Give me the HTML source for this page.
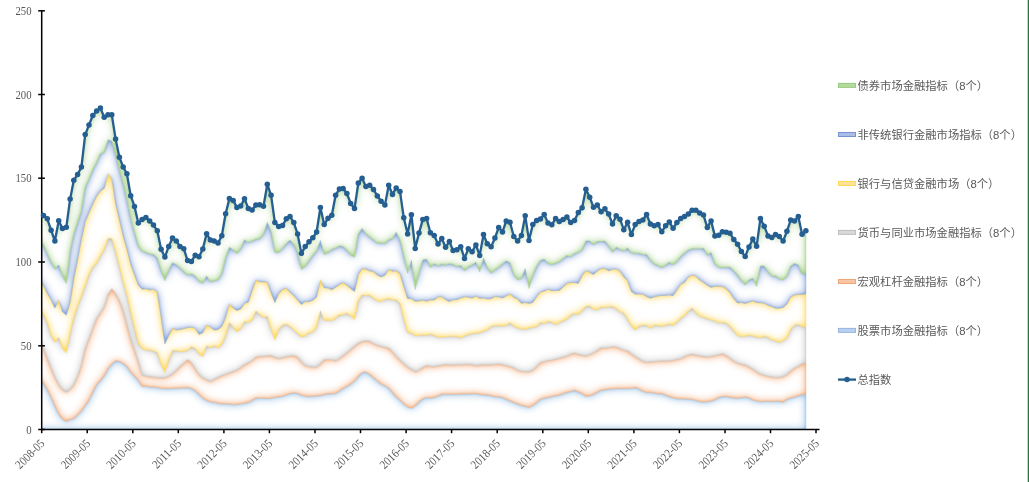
<!DOCTYPE html>
<html lang="zh"><head><meta charset="utf-8"><title>金融指标总指数</title>
<style>
html,body{margin:0;padding:0;background:#fff}
svg{display:block}
.ax{font-family:"Liberation Serif",serif;font-size:12.2px;fill:#595959}
.lg{font-family:"Liberation Sans","Noto Sans CJK SC",sans-serif;font-size:11.3px;fill:#595959}
</style></head>
<body>
<svg style="will-change:transform" width="1029" height="482" viewBox="0 0 1029 482">
<defs>
<filter id="ig" filterUnits="userSpaceOnUse" x="20" y="80" width="810" height="370" color-interpolation-filters="sRGB"><feGaussianBlur in="SourceAlpha" stdDeviation="1.5" result="a"/><feGaussianBlur in="SourceAlpha" stdDeviation="4.0" result="b"/><feComposite in="a" in2="b" operator="arithmetic" k1="0" k2="-0.6475" k3="-1.2025000000000001" k4="1.85" result="m"/><feComposite in="SourceGraphic" in2="m" operator="in"/></filter>
</defs>
<rect width="1029" height="482" fill="#fff"/>
<clipPath id="cp"><rect x="41.7" y="0" width="800" height="430.2"/></clipPath>
<g clip-path="url(#cp)">
<polygon filter="url(#ig)" fill="#9DC3E6" stroke="#9DC3E6" stroke-width="0.5" stroke-linejoin="round" points="35.5,378.8 39.8,378.8 43.5,382.9 47.3,389.7 51.1,397.3 54.9,405.8 58.7,413.9 62.5,419 66.3,421.5 70.1,419.5 73.8,418.6 77.6,415.1 81.4,411.1 85.2,405.6 89,399.9 92.8,392.1 96.6,384.6 100.4,380.5 104.2,375.9 108,368.7 111.8,364.2 115.6,360.7 119.4,361.3 123.2,363.5 126.9,366.6 130.7,372.1 134.5,376.2 138.3,380.2 142.1,386.4 145.9,386.1 149.7,387.1 153.5,387 157.3,387.4 161.1,388.5 164.9,388.2 168.7,388.9 172.5,388.1 176.3,388.5 180,387.8 183.8,387.9 187.6,387.4 191.4,388.4 195.2,390.6 199,394.2 202.8,398.3 206.6,400.3 210.4,401.9 214.2,402.2 218,403.1 221.8,404 225.6,403.8 229.4,404 233.2,404.8 236.9,404.3 240.7,403.8 244.5,403.2 248.3,402.5 252.1,400.6 255.9,397.8 259.7,398.2 263.5,398.1 267.3,398.6 271.1,398.2 274.9,397.3 278.7,396.8 282.5,396.3 286.3,394.7 290,393.5 293.8,392.9 297.6,393.3 301.4,395.2 305.2,396 309,396.7 312.8,396 316.6,395.9 320.4,395.4 324.2,394.6 328,393.8 331.8,393.8 335.6,393.6 339.4,391 343.1,388.3 346.9,386.5 350.7,383.9 354.5,381.1 358.3,376.6 362.1,372.6 365.9,371.9 369.7,374.4 373.5,377.8 377.3,381 381.1,384.1 384.9,385.8 388.7,387.9 392.5,392.4 396.2,396.9 400,400.1 403.8,403.8 407.6,407 411.4,408.3 415.2,406 419,401.8 422.8,398.8 426.6,397.6 430.4,398 434.2,397.6 438,396.1 441.8,393.9 445.6,394.5 449.4,394.1 453.1,394.6 456.9,394 460.7,393.9 464.5,393.9 468.3,394 472.1,393.7 475.9,393.5 479.7,394.4 483.5,394.8 487.3,395.1 491.1,395.6 494.9,396.9 498.7,396.8 502.5,397.4 506.2,399.4 510,400.8 513.8,402.4 517.6,404 521.4,405.4 525.2,406.3 529,407.4 532.8,405.4 536.6,402.6 540.4,399.2 544.2,398.1 548,397.6 551.8,396.5 555.6,395.6 559.3,395.2 563.1,393.6 566.9,392.3 570.7,391.8 574.5,390.1 578.3,392 582.1,393.6 585.9,396.4 589.7,395.8 593.5,394.4 597.3,392.3 601.1,390.1 604.9,389.8 608.7,389 612.5,389.1 616.2,388.3 620,388.5 623.8,388.5 627.6,388.4 631.4,388.5 635.2,387.3 639,388.9 642.8,391.2 646.6,392.5 650.4,392.3 654.2,393 658,393.8 661.8,393.4 665.6,395.3 669.3,396.8 673.1,397.5 676.9,399 680.7,398.6 684.5,398.9 688.3,399 692.1,399.5 695.9,400.4 699.7,401.6 703.5,402 707.3,401.5 711.1,401 714.9,399.8 718.7,397.6 722.4,396.5 726.2,396.4 730,397.3 733.8,397.9 737.6,398.2 741.4,397.7 745.2,396.9 749,397.9 752.8,399.9 756.6,401 760.4,401.6 764.2,401.4 768,401.1 771.8,401.6 775.5,401.3 779.3,401.1 783.1,402.5 786.9,399.3 790.7,397.9 794.5,397 798.3,395.9 802.1,394.4 805.9,394 805.9,429.5 802.1,429.5 798.3,429.5 794.5,429.5 790.7,429.5 786.9,429.5 783.1,429.5 779.3,429.5 775.5,429.5 771.8,429.5 768,429.5 764.2,429.5 760.4,429.5 756.6,429.5 752.8,429.5 749,429.5 745.2,429.5 741.4,429.5 737.6,429.5 733.8,429.5 730,429.5 726.2,429.5 722.4,429.5 718.7,429.5 714.9,429.5 711.1,429.5 707.3,429.5 703.5,429.5 699.7,429.5 695.9,429.5 692.1,429.5 688.3,429.5 684.5,429.5 680.7,429.5 676.9,429.5 673.1,429.5 669.3,429.5 665.6,429.5 661.8,429.5 658,429.5 654.2,429.5 650.4,429.5 646.6,429.5 642.8,429.5 639,429.5 635.2,429.5 631.4,429.5 627.6,429.5 623.8,429.5 620,429.5 616.2,429.5 612.5,429.5 608.7,429.5 604.9,429.5 601.1,429.5 597.3,429.5 593.5,429.5 589.7,429.5 585.9,429.5 582.1,429.5 578.3,429.5 574.5,429.5 570.7,429.5 566.9,429.5 563.1,429.5 559.3,429.5 555.6,429.5 551.8,429.5 548,429.5 544.2,429.5 540.4,429.5 536.6,429.5 532.8,429.5 529,429.5 525.2,429.5 521.4,429.5 517.6,429.5 513.8,429.5 510,429.5 506.2,429.5 502.5,429.5 498.7,429.5 494.9,429.5 491.1,429.5 487.3,429.5 483.5,429.5 479.7,429.5 475.9,429.5 472.1,429.5 468.3,429.5 464.5,429.5 460.7,429.5 456.9,429.5 453.1,429.5 449.4,429.5 445.6,429.5 441.8,429.5 438,429.5 434.2,429.5 430.4,429.5 426.6,429.5 422.8,429.5 419,429.5 415.2,429.5 411.4,429.5 407.6,429.5 403.8,429.5 400,429.5 396.2,429.5 392.5,429.5 388.7,429.5 384.9,429.5 381.1,429.5 377.3,429.5 373.5,429.5 369.7,429.5 365.9,429.5 362.1,429.5 358.3,429.5 354.5,429.5 350.7,429.5 346.9,429.5 343.1,429.5 339.4,429.5 335.6,429.5 331.8,429.5 328,429.5 324.2,429.5 320.4,429.5 316.6,429.5 312.8,429.5 309,429.5 305.2,429.5 301.4,429.5 297.6,429.5 293.8,429.5 290,429.5 286.3,429.5 282.5,429.5 278.7,429.5 274.9,429.5 271.1,429.5 267.3,429.5 263.5,429.5 259.7,429.5 255.9,429.5 252.1,429.5 248.3,429.5 244.5,429.5 240.7,429.5 236.9,429.5 233.2,429.5 229.4,429.5 225.6,429.5 221.8,429.5 218,429.5 214.2,429.5 210.4,429.5 206.6,429.5 202.8,429.5 199,429.5 195.2,429.5 191.4,429.5 187.6,429.5 183.8,429.5 180,429.5 176.3,429.5 172.5,429.5 168.7,429.5 164.9,429.5 161.1,429.5 157.3,429.5 153.5,429.5 149.7,429.5 145.9,429.5 142.1,429.5 138.3,429.5 134.5,429.5 130.7,429.5 126.9,429.5 123.2,429.5 119.4,429.5 115.6,429.5 111.8,429.5 108,429.5 104.2,429.5 100.4,429.5 96.6,429.5 92.8,429.5 89,429.5 85.2,429.5 81.4,429.5 77.6,429.5 73.8,429.5 70.1,429.5 66.3,429.5 62.5,429.5 58.7,429.5 54.9,429.5 51.1,429.5 47.3,429.5 43.5,429.5 39.8,429.5 35.5,429.5"/>
<polygon filter="url(#ig)" fill="#F4B183" stroke="#F4B183" stroke-width="0.5" stroke-linejoin="round" points="35.5,342.7 39.8,342.7 43.5,348.6 47.3,358.6 51.1,368.3 54.9,377.3 58.7,384.6 62.5,390 66.3,392.6 70.1,389.4 73.8,384.7 77.6,376.6 81.4,365.2 85.2,348.8 89,339.1 92.8,328.6 96.6,318.5 100.4,313.1 104.2,307.3 108,294.6 111.8,288.8 115.6,293.8 119.4,301.1 123.2,311.3 126.9,325.2 130.7,339.5 134.5,350.5 138.3,361.7 142.1,375.2 145.9,376.2 149.7,376.7 153.5,377 157.3,377.8 161.1,377.8 164.9,378.1 168.7,376.2 172.5,374.1 176.3,370.6 180,366.6 183.8,363.2 187.6,359.6 191.4,362.7 195.2,369 199,374.8 202.8,378.1 206.6,379.7 210.4,382 214.2,379.4 218,377.6 221.8,375.5 225.6,374.4 229.4,372.9 233.2,371.6 236.9,370.5 240.7,367.6 244.5,364.7 248.3,363 252.1,361.1 255.9,357 259.7,356.5 263.5,356.4 267.3,355.9 271.1,355.5 274.9,357.4 278.7,358.9 282.5,357.6 286.3,356.6 290,356.1 293.8,355.6 297.6,357.1 301.4,361.8 305.2,366 309,366.6 312.8,367.2 316.6,367.6 320.4,363.9 324.2,359.5 328,359.8 331.8,359.7 335.6,361.2 339.4,358.5 343.1,355.8 346.9,352.9 350.7,349.7 354.5,346.2 358.3,343.5 362.1,341.4 365.9,340.9 369.7,341.2 373.5,343.7 377.3,345.5 381.1,346.3 384.9,347.5 388.7,348.1 392.5,352.1 396.2,356.4 400,360.5 403.8,363.6 407.6,367.4 411.4,369.2 415.2,372.2 419,370.5 422.8,367.5 426.6,365.4 430.4,366.6 434.2,367 438,365.8 441.8,365.3 445.6,364.7 449.4,364.9 453.1,365.2 456.9,364.5 460.7,365 464.5,364.5 468.3,364.3 472.1,364.6 475.9,366.1 479.7,364.9 483.5,364.7 487.3,364.9 491.1,364.8 494.9,364.5 498.7,364.1 502.5,364.6 506.2,365.8 510,366.4 513.8,367.7 517.6,370.6 521.4,371.6 525.2,371.6 529,372 532.8,370.3 536.6,367 540.4,362.4 544.2,361.8 548,360.5 551.8,360.4 555.6,359.1 559.3,358.4 563.1,357.1 566.9,356.5 570.7,354.2 574.5,353.1 578.3,354.4 582.1,355.2 585.9,356.2 589.7,354.7 593.5,352.9 597.3,350.8 601.1,347.6 604.9,348.3 608.7,347.8 612.5,346.7 616.2,346.9 620,348.8 623.8,350.4 627.6,351 631.4,354 635.2,356.8 639,359 642.8,361.4 646.6,362.6 650.4,361.8 654.2,361.8 658,361.2 661.8,361 665.6,361 669.3,361 673.1,360.4 676.9,359.4 680.7,358.9 684.5,356.6 688.3,355.3 692.1,354.2 695.9,355 699.7,356 703.5,356.5 707.3,357.2 711.1,356.5 714.9,355.8 718.7,355 722.4,353.7 726.2,355.5 730,358.2 733.8,361.2 737.6,363.2 741.4,364.3 745.2,364.9 749,366.9 752.8,369.2 756.6,371.7 760.4,374.3 764.2,375.2 768,376.4 771.8,376.9 775.5,377.8 779.3,377.5 783.1,376.7 786.9,374.8 790.7,371.1 794.5,368.3 798.3,366.5 802.1,363.8 805.9,362.8 805.9,394 802.1,394.4 798.3,395.9 794.5,397 790.7,397.9 786.9,399.3 783.1,402.5 779.3,401.1 775.5,401.3 771.8,401.6 768,401.1 764.2,401.4 760.4,401.6 756.6,401 752.8,399.9 749,397.9 745.2,396.9 741.4,397.7 737.6,398.2 733.8,397.9 730,397.3 726.2,396.4 722.4,396.5 718.7,397.6 714.9,399.8 711.1,401 707.3,401.5 703.5,402 699.7,401.6 695.9,400.4 692.1,399.5 688.3,399 684.5,398.9 680.7,398.6 676.9,399 673.1,397.5 669.3,396.8 665.6,395.3 661.8,393.4 658,393.8 654.2,393 650.4,392.3 646.6,392.5 642.8,391.2 639,388.9 635.2,387.3 631.4,388.5 627.6,388.4 623.8,388.5 620,388.5 616.2,388.3 612.5,389.1 608.7,389 604.9,389.8 601.1,390.1 597.3,392.3 593.5,394.4 589.7,395.8 585.9,396.4 582.1,393.6 578.3,392 574.5,390.1 570.7,391.8 566.9,392.3 563.1,393.6 559.3,395.2 555.6,395.6 551.8,396.5 548,397.6 544.2,398.1 540.4,399.2 536.6,402.6 532.8,405.4 529,407.4 525.2,406.3 521.4,405.4 517.6,404 513.8,402.4 510,400.8 506.2,399.4 502.5,397.4 498.7,396.8 494.9,396.9 491.1,395.6 487.3,395.1 483.5,394.8 479.7,394.4 475.9,393.5 472.1,393.7 468.3,394 464.5,393.9 460.7,393.9 456.9,394 453.1,394.6 449.4,394.1 445.6,394.5 441.8,393.9 438,396.1 434.2,397.6 430.4,398 426.6,397.6 422.8,398.8 419,401.8 415.2,406 411.4,408.3 407.6,407 403.8,403.8 400,400.1 396.2,396.9 392.5,392.4 388.7,387.9 384.9,385.8 381.1,384.1 377.3,381 373.5,377.8 369.7,374.4 365.9,371.9 362.1,372.6 358.3,376.6 354.5,381.1 350.7,383.9 346.9,386.5 343.1,388.3 339.4,391 335.6,393.6 331.8,393.8 328,393.8 324.2,394.6 320.4,395.4 316.6,395.9 312.8,396 309,396.7 305.2,396 301.4,395.2 297.6,393.3 293.8,392.9 290,393.5 286.3,394.7 282.5,396.3 278.7,396.8 274.9,397.3 271.1,398.2 267.3,398.6 263.5,398.1 259.7,398.2 255.9,397.8 252.1,400.6 248.3,402.5 244.5,403.2 240.7,403.8 236.9,404.3 233.2,404.8 229.4,404 225.6,403.8 221.8,404 218,403.1 214.2,402.2 210.4,401.9 206.6,400.3 202.8,398.3 199,394.2 195.2,390.6 191.4,388.4 187.6,387.4 183.8,387.9 180,387.8 176.3,388.5 172.5,388.1 168.7,388.9 164.9,388.2 161.1,388.5 157.3,387.4 153.5,387 149.7,387.1 145.9,386.1 142.1,386.4 138.3,380.2 134.5,376.2 130.7,372.1 126.9,366.6 123.2,363.5 119.4,361.3 115.6,360.7 111.8,364.2 108,368.7 104.2,375.9 100.4,380.5 96.6,384.6 92.8,392.1 89,399.9 85.2,405.6 81.4,411.1 77.6,415.1 73.8,418.6 70.1,419.5 66.3,421.5 62.5,419 58.7,413.9 54.9,405.8 51.1,397.3 47.3,389.7 43.5,382.9 39.8,378.8 35.5,378.8"/>
<polygon filter="url(#ig)" fill="#C9C9C9" stroke="#C9C9C9" stroke-width="0.5" stroke-linejoin="round" points="35.5,309.2 39.8,309.2 43.5,314.4 47.3,322.9 51.1,335.2 54.9,342.3 58.7,337.6 62.5,348.2 66.3,353 70.1,333.7 73.8,318.1 77.6,306.2 81.4,296.7 85.2,286.1 89,274.8 92.8,267 96.6,263.2 100.4,255.9 104.2,250 108,238.6 111.8,238.6 115.6,251.9 119.4,266.7 123.2,282.3 126.9,295.4 130.7,312.5 134.5,328 138.3,343.6 142.1,348.2 145.9,350.2 149.7,350.1 153.5,351.1 157.3,352.5 161.1,364.6 164.9,372.7 168.7,360 172.5,350.5 176.3,350.8 180,351.7 183.8,351.2 187.6,350.7 191.4,346.7 195.2,348.6 199,353.9 202.8,356.6 206.6,345.9 210.4,347.5 214.2,345.8 218,348.2 221.8,344.7 225.6,335.6 229.4,322.5 233.2,326.9 236.9,331.9 240.7,328.7 244.5,321.6 248.3,322.6 252.1,320.2 255.9,311 259.7,314.5 263.5,317.5 267.3,316.4 271.1,329.2 274.9,340.2 278.7,329.7 282.5,325.2 286.3,324.3 290,326.5 293.8,330 297.6,333.6 301.4,337.1 305.2,335.9 309,332.8 312.8,332.2 316.6,327.6 320.4,310.7 324.2,320.7 328,319.9 331.8,320.8 335.6,318.3 339.4,315.1 343.1,315.1 346.9,313.1 350.7,316.1 354.5,319.5 358.3,300.7 362.1,295 365.9,295.3 369.7,295.2 373.5,298.2 377.3,300.7 381.1,301.7 384.9,299.5 388.7,298.5 392.5,299.9 396.2,300.1 400,303.3 403.8,318.9 407.6,332.7 411.4,333 415.2,335.7 419,335.4 422.8,334.7 426.6,335.5 430.4,333.9 434.2,335.6 438,337.2 441.8,337.1 445.6,337 449.4,336.3 453.1,336.7 456.9,336.2 460.7,338.2 464.5,335.9 468.3,334.5 472.1,333.5 475.9,333.1 479.7,333 483.5,330.9 487.3,330.1 491.1,326.6 494.9,325.4 498.7,325.8 502.5,326.3 506.2,325.3 510,322.9 513.8,325.9 517.6,328.1 521.4,328.9 525.2,329.2 529,327.9 532.8,327.2 536.6,326.8 540.4,322.6 544.2,323.4 548,321.4 551.8,322.1 555.6,324.7 559.3,322.5 563.1,320.7 566.9,319.2 570.7,314.9 574.5,313.4 578.3,314.7 582.1,310.5 585.9,306.6 589.7,306 593.5,309.3 597.3,309.9 601.1,306.9 604.9,307.6 608.7,306.8 612.5,306.6 616.2,308.8 620,311.8 623.8,313.2 627.6,318.9 631.4,326 635.2,330.2 639,326.1 642.8,325.3 646.6,325.3 650.4,328.4 654.2,325.2 658,325.5 661.8,326.5 665.6,325.1 669.3,324.1 673.1,325.6 676.9,322.3 680.7,318.2 684.5,316 688.3,311 692.1,308.2 695.9,312.5 699.7,316.3 703.5,317.3 707.3,318.5 711.1,320 714.9,320.7 718.7,323 722.4,322.5 726.2,323.1 730,326.4 733.8,330.5 737.6,335.7 741.4,336.5 745.2,336.1 749,335.3 752.8,336 756.6,337 760.4,337.8 764.2,336.2 768,337.4 771.8,340.1 775.5,340.7 779.3,342.7 783.1,340.7 786.9,338.5 790.7,329.6 794.5,325.2 798.3,324.6 802.1,326.8 805.9,326.8 805.9,362.8 802.1,363.8 798.3,366.5 794.5,368.3 790.7,371.1 786.9,374.8 783.1,376.7 779.3,377.5 775.5,377.8 771.8,376.9 768,376.4 764.2,375.2 760.4,374.3 756.6,371.7 752.8,369.2 749,366.9 745.2,364.9 741.4,364.3 737.6,363.2 733.8,361.2 730,358.2 726.2,355.5 722.4,353.7 718.7,355 714.9,355.8 711.1,356.5 707.3,357.2 703.5,356.5 699.7,356 695.9,355 692.1,354.2 688.3,355.3 684.5,356.6 680.7,358.9 676.9,359.4 673.1,360.4 669.3,361 665.6,361 661.8,361 658,361.2 654.2,361.8 650.4,361.8 646.6,362.6 642.8,361.4 639,359 635.2,356.8 631.4,354 627.6,351 623.8,350.4 620,348.8 616.2,346.9 612.5,346.7 608.7,347.8 604.9,348.3 601.1,347.6 597.3,350.8 593.5,352.9 589.7,354.7 585.9,356.2 582.1,355.2 578.3,354.4 574.5,353.1 570.7,354.2 566.9,356.5 563.1,357.1 559.3,358.4 555.6,359.1 551.8,360.4 548,360.5 544.2,361.8 540.4,362.4 536.6,367 532.8,370.3 529,372 525.2,371.6 521.4,371.6 517.6,370.6 513.8,367.7 510,366.4 506.2,365.8 502.5,364.6 498.7,364.1 494.9,364.5 491.1,364.8 487.3,364.9 483.5,364.7 479.7,364.9 475.9,366.1 472.1,364.6 468.3,364.3 464.5,364.5 460.7,365 456.9,364.5 453.1,365.2 449.4,364.9 445.6,364.7 441.8,365.3 438,365.8 434.2,367 430.4,366.6 426.6,365.4 422.8,367.5 419,370.5 415.2,372.2 411.4,369.2 407.6,367.4 403.8,363.6 400,360.5 396.2,356.4 392.5,352.1 388.7,348.1 384.9,347.5 381.1,346.3 377.3,345.5 373.5,343.7 369.7,341.2 365.9,340.9 362.1,341.4 358.3,343.5 354.5,346.2 350.7,349.7 346.9,352.9 343.1,355.8 339.4,358.5 335.6,361.2 331.8,359.7 328,359.8 324.2,359.5 320.4,363.9 316.6,367.6 312.8,367.2 309,366.6 305.2,366 301.4,361.8 297.6,357.1 293.8,355.6 290,356.1 286.3,356.6 282.5,357.6 278.7,358.9 274.9,357.4 271.1,355.5 267.3,355.9 263.5,356.4 259.7,356.5 255.9,357 252.1,361.1 248.3,363 244.5,364.7 240.7,367.6 236.9,370.5 233.2,371.6 229.4,372.9 225.6,374.4 221.8,375.5 218,377.6 214.2,379.4 210.4,382 206.6,379.7 202.8,378.1 199,374.8 195.2,369 191.4,362.7 187.6,359.6 183.8,363.2 180,366.6 176.3,370.6 172.5,374.1 168.7,376.2 164.9,378.1 161.1,377.8 157.3,377.8 153.5,377 149.7,376.7 145.9,376.2 142.1,375.2 138.3,361.7 134.5,350.5 130.7,339.5 126.9,325.2 123.2,311.3 119.4,301.1 115.6,293.8 111.8,288.8 108,294.6 104.2,307.3 100.4,313.1 96.6,318.5 92.8,328.6 89,339.1 85.2,348.8 81.4,365.2 77.6,376.6 73.8,384.7 70.1,389.4 66.3,392.6 62.5,390 58.7,384.6 54.9,377.3 51.1,368.3 47.3,358.6 43.5,348.6 39.8,342.7 35.5,342.7"/>
<polygon filter="url(#ig)" fill="#FFD966" stroke="#FFD966" stroke-width="0.5" stroke-linejoin="round" points="35.5,280.5 39.8,280.5 43.5,285.3 47.3,293.4 51.1,299.7 54.9,308.1 58.7,300.1 62.5,311.7 66.3,315.2 70.1,302.5 73.8,278.9 77.6,259.9 81.4,239.6 85.2,221.8 89,212.8 92.8,204.1 96.6,196.3 100.4,190.9 104.2,188.3 108,173.7 111.8,178.8 115.6,203.4 119.4,219.7 123.2,236.2 126.9,249.1 130.7,264.2 134.5,274.8 138.3,285 142.1,289.2 145.9,288.7 149.7,290 153.5,289.2 157.3,292.2 161.1,317.1 164.9,343.9 168.7,335.7 172.5,328.2 176.3,330 180,329.6 183.8,328.6 187.6,327.7 191.4,327.2 195.2,328.2 199,334.4 202.8,332.8 206.6,325.1 210.4,327.1 214.2,330.1 218,329.5 221.8,326.4 225.6,317.6 229.4,303.6 233.2,308 236.9,310.4 240.7,309 244.5,303.2 248.3,302.2 252.1,290.7 255.9,280.1 259.7,281.7 263.5,281.9 267.3,282 271.1,292.8 274.9,302.7 278.7,293.6 282.5,289.5 286.3,288.2 290,292.3 293.8,295.7 297.6,299.9 301.4,304.4 305.2,301.6 309,301.7 312.8,300.3 316.6,296.9 320.4,279.8 324.2,287.7 328,288.1 331.8,289.7 335.6,287.2 339.4,284.6 343.1,282.5 346.9,285.1 350.7,288.4 354.5,291.6 358.3,274.5 362.1,268.6 365.9,269 369.7,271 373.5,271.6 377.3,275 381.1,276.9 384.9,275.3 388.7,269.4 392.5,271.2 396.2,270.8 400,273.7 403.8,286.4 407.6,298.6 411.4,298.6 415.2,301.3 419,301 422.8,300.1 426.6,301.2 430.4,300 434.2,299.9 438,296.9 441.8,296.7 445.6,299.7 449.4,301.5 453.1,299.8 456.9,299.7 460.7,298.1 464.5,296.8 468.3,297.2 472.1,298.1 475.9,296.1 479.7,298.3 483.5,298.1 487.3,298.9 491.1,298.8 494.9,296.5 498.7,296.9 502.5,298 506.2,295.9 510,294 513.8,297.2 517.6,299.1 521.4,303.3 525.2,302.6 529,303.4 532.8,302.5 536.6,296.8 540.4,292.1 544.2,291.2 548,289.2 551.8,290.7 555.6,290.5 559.3,290.5 563.1,286.9 566.9,283.4 570.7,282.5 574.5,282.6 578.3,283.4 582.1,275.5 585.9,270.5 589.7,272.4 593.5,274.5 597.3,271 601.1,268.6 604.9,268.6 608.7,270.8 612.5,269.3 616.2,269 620,271.3 623.8,276.9 627.6,280.8 631.4,291.4 635.2,294.1 639,294.1 642.8,294.2 646.6,296.6 650.4,298.2 654.2,296.8 658,296 661.8,295.4 665.6,295.5 669.3,294.9 673.1,295.7 676.9,290.1 680.7,284.3 684.5,282.4 688.3,277.2 692.1,275 695.9,276.3 699.7,280 703.5,282.6 707.3,285.2 711.1,287.4 714.9,286.3 718.7,286.3 722.4,286.5 726.2,288.8 730,292.7 733.8,298.6 737.6,303 741.4,302.6 745.2,303.5 749,302.3 752.8,300.9 756.6,302.5 760.4,302.8 764.2,303.3 768,305.3 771.8,306.5 775.5,308.2 779.3,308.2 783.1,307.4 786.9,303.9 790.7,297 794.5,294.9 798.3,294.6 802.1,294.3 805.9,294.1 805.9,326.8 802.1,326.8 798.3,324.6 794.5,325.2 790.7,329.6 786.9,338.5 783.1,340.7 779.3,342.7 775.5,340.7 771.8,340.1 768,337.4 764.2,336.2 760.4,337.8 756.6,337 752.8,336 749,335.3 745.2,336.1 741.4,336.5 737.6,335.7 733.8,330.5 730,326.4 726.2,323.1 722.4,322.5 718.7,323 714.9,320.7 711.1,320 707.3,318.5 703.5,317.3 699.7,316.3 695.9,312.5 692.1,308.2 688.3,311 684.5,316 680.7,318.2 676.9,322.3 673.1,325.6 669.3,324.1 665.6,325.1 661.8,326.5 658,325.5 654.2,325.2 650.4,328.4 646.6,325.3 642.8,325.3 639,326.1 635.2,330.2 631.4,326 627.6,318.9 623.8,313.2 620,311.8 616.2,308.8 612.5,306.6 608.7,306.8 604.9,307.6 601.1,306.9 597.3,309.9 593.5,309.3 589.7,306 585.9,306.6 582.1,310.5 578.3,314.7 574.5,313.4 570.7,314.9 566.9,319.2 563.1,320.7 559.3,322.5 555.6,324.7 551.8,322.1 548,321.4 544.2,323.4 540.4,322.6 536.6,326.8 532.8,327.2 529,327.9 525.2,329.2 521.4,328.9 517.6,328.1 513.8,325.9 510,322.9 506.2,325.3 502.5,326.3 498.7,325.8 494.9,325.4 491.1,326.6 487.3,330.1 483.5,330.9 479.7,333 475.9,333.1 472.1,333.5 468.3,334.5 464.5,335.9 460.7,338.2 456.9,336.2 453.1,336.7 449.4,336.3 445.6,337 441.8,337.1 438,337.2 434.2,335.6 430.4,333.9 426.6,335.5 422.8,334.7 419,335.4 415.2,335.7 411.4,333 407.6,332.7 403.8,318.9 400,303.3 396.2,300.1 392.5,299.9 388.7,298.5 384.9,299.5 381.1,301.7 377.3,300.7 373.5,298.2 369.7,295.2 365.9,295.3 362.1,295 358.3,300.7 354.5,319.5 350.7,316.1 346.9,313.1 343.1,315.1 339.4,315.1 335.6,318.3 331.8,320.8 328,319.9 324.2,320.7 320.4,310.7 316.6,327.6 312.8,332.2 309,332.8 305.2,335.9 301.4,337.1 297.6,333.6 293.8,330 290,326.5 286.3,324.3 282.5,325.2 278.7,329.7 274.9,340.2 271.1,329.2 267.3,316.4 263.5,317.5 259.7,314.5 255.9,311 252.1,320.2 248.3,322.6 244.5,321.6 240.7,328.7 236.9,331.9 233.2,326.9 229.4,322.5 225.6,335.6 221.8,344.7 218,348.2 214.2,345.8 210.4,347.5 206.6,345.9 202.8,356.6 199,353.9 195.2,348.6 191.4,346.7 187.6,350.7 183.8,351.2 180,351.7 176.3,350.8 172.5,350.5 168.7,360 164.9,372.7 161.1,364.6 157.3,352.5 153.5,351.1 149.7,350.1 145.9,350.2 142.1,348.2 138.3,343.6 134.5,328 130.7,312.5 126.9,295.4 123.2,282.3 119.4,266.7 115.6,251.9 111.8,238.6 108,238.6 104.2,250 100.4,255.9 96.6,263.2 92.8,267 89,274.8 85.2,286.1 81.4,296.7 77.6,306.2 73.8,318.1 70.1,333.7 66.3,353 62.5,348.2 58.7,337.6 54.9,342.3 51.1,335.2 47.3,322.9 43.5,314.4 39.8,309.2 35.5,309.2"/>
<polygon filter="url(#ig)" fill="#8FAADC" stroke="#8FAADC" stroke-width="0.5" stroke-linejoin="round" points="35.5,240.4 39.8,240.4 43.5,245.6 47.3,254.2 51.1,262.1 54.9,269.3 58.7,265 62.5,275.9 66.3,283.7 70.1,251.8 73.8,234.5 77.6,222.6 81.4,211.2 85.2,187.4 89,179.4 92.8,170 96.6,162.9 100.4,153.8 104.2,152.8 108,139.8 111.8,141.3 115.6,154.9 119.4,170.5 123.2,184.3 126.9,200.5 130.7,219 134.5,232.7 138.3,246.2 142.1,251.3 145.9,252.4 149.7,254.3 153.5,254.5 157.3,258 161.1,270.8 164.9,280.8 168.7,270.5 172.5,262.7 176.3,264.7 180,268 183.8,271.8 187.6,275.4 191.4,273.9 195.2,276.2 199,281.4 202.8,283.4 206.6,275.9 210.4,282.2 214.2,280.6 218,280.2 221.8,273.7 225.6,258.3 229.4,247.3 233.2,250.1 236.9,253.8 240.7,249.1 244.5,239.9 248.3,242.7 252.1,241.3 255.9,239.2 259.7,238.9 263.5,234.7 267.3,222.4 271.1,231.7 274.9,252.4 278.7,252.6 282.5,248.8 286.3,243.8 290,240.1 293.8,244.6 297.6,252.6 301.4,269.7 305.2,266.5 309,260.7 312.8,255.4 316.6,251.2 320.4,240.5 324.2,254.4 328,252.8 331.8,249.5 335.6,248.3 339.4,246 343.1,246.5 346.9,250.4 350.7,255.1 354.5,257.2 358.3,234.3 362.1,228.4 365.9,234 369.7,237.1 373.5,240.1 377.3,243.3 381.1,242.8 384.9,243.9 388.7,239.8 392.5,238.7 396.2,232.3 400,240.3 403.8,255.8 407.6,273.3 411.4,260.4 415.2,289.6 419,273.6 422.8,260 426.6,259.2 430.4,267.6 434.2,263.7 438,266.2 441.8,264.1 445.6,265.2 449.4,263.8 453.1,264.4 456.9,266.7 460.7,265.5 464.5,270.9 468.3,266.9 472.1,265.1 475.9,262.2 479.7,271.9 483.5,257.9 487.3,268 491.1,273.4 494.9,269.9 498.7,267.4 502.5,264.1 506.2,260.8 510,262.9 513.8,274.8 517.6,279.8 521.4,278.6 525.2,268.7 529,288.6 532.8,275.6 536.6,266.6 540.4,260.5 544.2,259.2 548,263.5 551.8,264.7 555.6,263.3 559.3,261.9 563.1,258.7 566.9,255.6 570.7,257.1 574.5,253.6 578.3,252.3 582.1,250.3 585.9,240.9 589.7,241.1 593.5,245.1 597.3,241.6 601.1,241.6 604.9,241 608.7,246 612.5,252.6 616.2,247.2 620,249.4 623.8,251.3 627.6,248.1 631.4,253 635.2,253.5 639,253.2 642.8,254.7 646.6,254.4 650.4,260.3 654.2,263.9 658,265.6 661.8,267.8 665.6,265.4 669.3,262.2 673.1,264.9 676.9,261.4 680.7,256.6 684.5,253.3 688.3,250.3 692.1,248.8 695.9,248.7 699.7,248.8 703.5,248.3 707.3,255.6 711.1,252.5 714.9,264.2 718.7,267.3 722.4,267.7 726.2,267.3 730,267.2 733.8,271.1 737.6,275.1 741.4,280.8 745.2,285.1 749,280.1 752.8,278.3 756.6,286.5 760.4,266.1 764.2,266 768,271.8 771.8,276.5 775.5,276 779.3,279.1 783.1,280.1 786.9,276.5 790.7,266.2 794.5,263.6 798.3,265 802.1,274.6 805.9,272.3 805.9,294.1 802.1,294.3 798.3,294.6 794.5,294.9 790.7,297 786.9,303.9 783.1,307.4 779.3,308.2 775.5,308.2 771.8,306.5 768,305.3 764.2,303.3 760.4,302.8 756.6,302.5 752.8,300.9 749,302.3 745.2,303.5 741.4,302.6 737.6,303 733.8,298.6 730,292.7 726.2,288.8 722.4,286.5 718.7,286.3 714.9,286.3 711.1,287.4 707.3,285.2 703.5,282.6 699.7,280 695.9,276.3 692.1,275 688.3,277.2 684.5,282.4 680.7,284.3 676.9,290.1 673.1,295.7 669.3,294.9 665.6,295.5 661.8,295.4 658,296 654.2,296.8 650.4,298.2 646.6,296.6 642.8,294.2 639,294.1 635.2,294.1 631.4,291.4 627.6,280.8 623.8,276.9 620,271.3 616.2,269 612.5,269.3 608.7,270.8 604.9,268.6 601.1,268.6 597.3,271 593.5,274.5 589.7,272.4 585.9,270.5 582.1,275.5 578.3,283.4 574.5,282.6 570.7,282.5 566.9,283.4 563.1,286.9 559.3,290.5 555.6,290.5 551.8,290.7 548,289.2 544.2,291.2 540.4,292.1 536.6,296.8 532.8,302.5 529,303.4 525.2,302.6 521.4,303.3 517.6,299.1 513.8,297.2 510,294 506.2,295.9 502.5,298 498.7,296.9 494.9,296.5 491.1,298.8 487.3,298.9 483.5,298.1 479.7,298.3 475.9,296.1 472.1,298.1 468.3,297.2 464.5,296.8 460.7,298.1 456.9,299.7 453.1,299.8 449.4,301.5 445.6,299.7 441.8,296.7 438,296.9 434.2,299.9 430.4,300 426.6,301.2 422.8,300.1 419,301 415.2,301.3 411.4,298.6 407.6,298.6 403.8,286.4 400,273.7 396.2,270.8 392.5,271.2 388.7,269.4 384.9,275.3 381.1,276.9 377.3,275 373.5,271.6 369.7,271 365.9,269 362.1,268.6 358.3,274.5 354.5,291.6 350.7,288.4 346.9,285.1 343.1,282.5 339.4,284.6 335.6,287.2 331.8,289.7 328,288.1 324.2,287.7 320.4,279.8 316.6,296.9 312.8,300.3 309,301.7 305.2,301.6 301.4,304.4 297.6,299.9 293.8,295.7 290,292.3 286.3,288.2 282.5,289.5 278.7,293.6 274.9,302.7 271.1,292.8 267.3,282 263.5,281.9 259.7,281.7 255.9,280.1 252.1,290.7 248.3,302.2 244.5,303.2 240.7,309 236.9,310.4 233.2,308 229.4,303.6 225.6,317.6 221.8,326.4 218,329.5 214.2,330.1 210.4,327.1 206.6,325.1 202.8,332.8 199,334.4 195.2,328.2 191.4,327.2 187.6,327.7 183.8,328.6 180,329.6 176.3,330 172.5,328.2 168.7,335.7 164.9,343.9 161.1,317.1 157.3,292.2 153.5,289.2 149.7,290 145.9,288.7 142.1,289.2 138.3,285 134.5,274.8 130.7,264.2 126.9,249.1 123.2,236.2 119.4,219.7 115.6,203.4 111.8,178.8 108,173.7 104.2,188.3 100.4,190.9 96.6,196.3 92.8,204.1 89,212.8 85.2,221.8 81.4,239.6 77.6,259.9 73.8,278.9 70.1,302.5 66.3,315.2 62.5,311.7 58.7,300.1 54.9,308.1 51.1,299.7 47.3,293.4 43.5,285.3 39.8,280.5 35.5,280.5"/>
<polygon filter="url(#ig)" fill="#A9D18E" stroke="#A9D18E" stroke-width="0.5" stroke-linejoin="round" points="35.5,207 39.8,209.5 43.5,215.5 47.3,218.8 51.1,230.2 54.9,241 58.7,220.7 62.5,228.6 66.3,227.3 70.1,199.1 73.8,180.2 77.6,174.6 81.4,167 85.2,134.6 89,124.9 92.8,115.5 96.6,111.1 100.4,107.9 104.2,117.3 108,114.8 111.8,114.8 115.6,138.9 119.4,157.3 123.2,167 126.9,173.8 130.7,195.7 134.5,206.4 138.3,223 142.1,219.5 145.9,217.5 149.7,221 153.5,224.9 157.3,230.8 161.1,249.3 164.9,257.1 168.7,246.4 172.5,238 176.3,241.1 180,246.4 183.8,248.7 187.6,260.6 191.4,261.6 195.2,255.2 199,256.7 202.8,248.9 206.6,233.7 210.4,240 214.2,241.1 218,243.1 221.8,235.7 225.6,213.8 229.4,198.6 233.2,200.4 236.9,207.4 240.7,206.1 244.5,198.7 248.3,208.4 252.1,210 255.9,205.1 259.7,204.7 263.5,206.3 267.3,184.2 271.1,195.3 274.9,222.6 278.7,226.5 282.5,225.6 286.3,218.7 290,216.4 293.8,222.6 297.6,233.9 301.4,253.4 305.2,246.6 309,241.7 312.8,237.8 316.6,232 320.4,207.4 324.2,224.6 328,218.3 331.8,215.2 335.6,195.3 339.4,188.9 343.1,188.5 346.9,193.4 350.7,203.5 354.5,208.6 358.3,183.1 362.1,178.2 365.9,186.6 369.7,185.2 373.5,189.5 377.3,195.9 381.1,201.2 384.9,205.1 388.7,185.2 392.5,194.4 396.2,187.9 400,191.4 403.8,217.8 407.6,233.9 411.4,214.8 415.2,248.4 419,233 422.8,219.4 426.6,218.4 430.4,232.8 434.2,235.6 438,243.9 441.8,238.5 445.6,247.3 449.4,241.4 453.1,250.6 456.9,249.8 460.7,246.7 464.5,258.4 468.3,248.8 472.1,251.7 475.9,244.9 479.7,255.4 483.5,234.6 487.3,243.7 491.1,246.7 494.9,238.1 498.7,227.4 502.5,232 506.2,220.9 510,222.3 513.8,236.5 517.6,241 521.4,235.6 525.2,215.7 529,240.4 532.8,224.4 536.6,220.4 540.4,219 544.2,214.5 548,222.9 551.8,224.8 555.6,218.4 559.3,221.5 563.1,219.4 566.9,217 570.7,222.5 574.5,220.4 578.3,212.6 582.1,207.7 585.9,189.2 589.7,197.2 593.5,207.3 597.3,205 601.1,211.8 604.9,208.8 608.7,214.1 612.5,223.9 616.2,215.7 620,219.2 623.8,229.7 627.6,222.3 631.4,234.6 635.2,224.4 639,221.5 642.8,220 646.6,214.5 650.4,223.9 654.2,225.8 658,224.4 661.8,231.7 665.6,225.8 669.3,221.9 673.1,228.3 676.9,222.5 680.7,218.4 684.5,216.5 688.3,214.1 692.1,210.2 695.9,210.2 699.7,213.1 703.5,215.1 707.3,227.4 711.1,220.9 714.9,236.1 718.7,235.2 722.4,231.7 726.2,232.2 730,233.2 733.8,239.5 737.6,244.3 741.4,251.5 745.2,256.4 749,246.9 752.8,239.1 756.6,246.3 760.4,218.6 764.2,226.2 768,235.9 771.8,237.5 775.5,234.6 779.3,236.5 783.1,241 786.9,231.3 790.7,220 794.5,220.9 798.3,216.5 802.1,234.2 805.9,230.7 805.9,272.3 802.1,274.6 798.3,265 794.5,263.6 790.7,266.2 786.9,276.5 783.1,280.1 779.3,279.1 775.5,276 771.8,276.5 768,271.8 764.2,266 760.4,266.1 756.6,286.5 752.8,278.3 749,280.1 745.2,285.1 741.4,280.8 737.6,275.1 733.8,271.1 730,267.2 726.2,267.3 722.4,267.7 718.7,267.3 714.9,264.2 711.1,252.5 707.3,255.6 703.5,248.3 699.7,248.8 695.9,248.7 692.1,248.8 688.3,250.3 684.5,253.3 680.7,256.6 676.9,261.4 673.1,264.9 669.3,262.2 665.6,265.4 661.8,267.8 658,265.6 654.2,263.9 650.4,260.3 646.6,254.4 642.8,254.7 639,253.2 635.2,253.5 631.4,253 627.6,248.1 623.8,251.3 620,249.4 616.2,247.2 612.5,252.6 608.7,246 604.9,241 601.1,241.6 597.3,241.6 593.5,245.1 589.7,241.1 585.9,240.9 582.1,250.3 578.3,252.3 574.5,253.6 570.7,257.1 566.9,255.6 563.1,258.7 559.3,261.9 555.6,263.3 551.8,264.7 548,263.5 544.2,259.2 540.4,260.5 536.6,266.6 532.8,275.6 529,288.6 525.2,268.7 521.4,278.6 517.6,279.8 513.8,274.8 510,262.9 506.2,260.8 502.5,264.1 498.7,267.4 494.9,269.9 491.1,273.4 487.3,268 483.5,257.9 479.7,271.9 475.9,262.2 472.1,265.1 468.3,266.9 464.5,270.9 460.7,265.5 456.9,266.7 453.1,264.4 449.4,263.8 445.6,265.2 441.8,264.1 438,266.2 434.2,263.7 430.4,267.6 426.6,259.2 422.8,260 419,273.6 415.2,289.6 411.4,260.4 407.6,273.3 403.8,255.8 400,240.3 396.2,232.3 392.5,238.7 388.7,239.8 384.9,243.9 381.1,242.8 377.3,243.3 373.5,240.1 369.7,237.1 365.9,234 362.1,228.4 358.3,234.3 354.5,257.2 350.7,255.1 346.9,250.4 343.1,246.5 339.4,246 335.6,248.3 331.8,249.5 328,252.8 324.2,254.4 320.4,240.5 316.6,251.2 312.8,255.4 309,260.7 305.2,266.5 301.4,269.7 297.6,252.6 293.8,244.6 290,240.1 286.3,243.8 282.5,248.8 278.7,252.6 274.9,252.4 271.1,231.7 267.3,222.4 263.5,234.7 259.7,238.9 255.9,239.2 252.1,241.3 248.3,242.7 244.5,239.9 240.7,249.1 236.9,253.8 233.2,250.1 229.4,247.3 225.6,258.3 221.8,273.7 218,280.2 214.2,280.6 210.4,282.2 206.6,275.9 202.8,283.4 199,281.4 195.2,276.2 191.4,273.9 187.6,275.4 183.8,271.8 180,268 176.3,264.7 172.5,262.7 168.7,270.5 164.9,280.8 161.1,270.8 157.3,258 153.5,254.5 149.7,254.3 145.9,252.4 142.1,251.3 138.3,246.2 134.5,232.7 130.7,219 126.9,200.5 123.2,184.3 119.4,170.5 115.6,154.9 111.8,141.3 108,139.8 104.2,152.8 100.4,153.8 96.6,162.9 92.8,170 89,179.4 85.2,187.4 81.4,211.2 77.6,222.6 73.8,234.5 70.1,251.8 66.3,283.7 62.5,275.9 58.7,265 54.9,269.3 51.1,262.1 47.3,254.2 43.5,245.6 39.8,240.4 35.5,240.4"/>
</g>
<g stroke="#000" stroke-width="1.5" fill="none"><path d="M41.7 10.7V429.5H819.5"/><path d="M38.2 429.5H44.9"/><path d="M38.2 345.8H44.9"/><path d="M38.2 262H44.9"/><path d="M38.2 178.2H44.9"/><path d="M38.2 94.5H44.9"/><path d="M38.2 10.8H44.9"/><path d="M41.7 429.5V433.2"/><path d="M87.2 429.5V433.2"/><path d="M132.8 429.5V433.2"/><path d="M178.3 429.5V433.2"/><path d="M223.9 429.5V433.2"/><path d="M269.4 429.5V433.2"/><path d="M315 429.5V433.2"/><path d="M360.5 429.5V433.2"/><path d="M406.1 429.5V433.2"/><path d="M451.6 429.5V433.2"/><path d="M497.2 429.5V433.2"/><path d="M542.8 429.5V433.2"/><path d="M588.3 429.5V433.2"/><path d="M633.9 429.5V433.2"/><path d="M679.4 429.5V433.2"/><path d="M725 429.5V433.2"/><path d="M770.5 429.5V433.2"/><path d="M816 429.5V433.2"/></g>
<text class="ax" transform="translate(31.6 433.7) scale(.88 1)" text-anchor="end">0</text><text class="ax" transform="translate(31.6 349.9) scale(.88 1)" text-anchor="end">50</text><text class="ax" transform="translate(31.6 266.2) scale(.88 1)" text-anchor="end">100</text><text class="ax" transform="translate(31.6 182.4) scale(.88 1)" text-anchor="end">150</text><text class="ax" transform="translate(31.6 98.7) scale(.88 1)" text-anchor="end">200</text><text class="ax" transform="translate(31.6 14.9) scale(.88 1)" text-anchor="end">250</text>
<text class="ax" transform="translate(45.4 444.2) rotate(-45) scale(.88 1)" text-anchor="end">2008-05</text><text class="ax" transform="translate(91 444.2) rotate(-45) scale(.88 1)" text-anchor="end">2009-05</text><text class="ax" transform="translate(136.5 444.2) rotate(-45) scale(.88 1)" text-anchor="end">2010-05</text><text class="ax" transform="translate(182 444.2) rotate(-45) scale(.88 1)" text-anchor="end">2011-05</text><text class="ax" transform="translate(227.6 444.2) rotate(-45) scale(.88 1)" text-anchor="end">2012-05</text><text class="ax" transform="translate(273.1 444.2) rotate(-45) scale(.88 1)" text-anchor="end">2013-05</text><text class="ax" transform="translate(318.7 444.2) rotate(-45) scale(.88 1)" text-anchor="end">2014-05</text><text class="ax" transform="translate(364.2 444.2) rotate(-45) scale(.88 1)" text-anchor="end">2015-05</text><text class="ax" transform="translate(409.8 444.2) rotate(-45) scale(.88 1)" text-anchor="end">2016-05</text><text class="ax" transform="translate(455.3 444.2) rotate(-45) scale(.88 1)" text-anchor="end">2017-05</text><text class="ax" transform="translate(500.9 444.2) rotate(-45) scale(.88 1)" text-anchor="end">2018-05</text><text class="ax" transform="translate(546.5 444.2) rotate(-45) scale(.88 1)" text-anchor="end">2019-05</text><text class="ax" transform="translate(592 444.2) rotate(-45) scale(.88 1)" text-anchor="end">2020-05</text><text class="ax" transform="translate(637.6 444.2) rotate(-45) scale(.88 1)" text-anchor="end">2021-05</text><text class="ax" transform="translate(683.1 444.2) rotate(-45) scale(.88 1)" text-anchor="end">2022-05</text><text class="ax" transform="translate(728.7 444.2) rotate(-45) scale(.88 1)" text-anchor="end">2023-05</text><text class="ax" transform="translate(774.2 444.2) rotate(-45) scale(.88 1)" text-anchor="end">2024-05</text><text class="ax" transform="translate(819.8 444.2) rotate(-45) scale(.88 1)" text-anchor="end">2025-05</text>
<polyline clip-path="url(#cp)" fill="none" stroke="#255E91" stroke-width="2.3" stroke-linejoin="round" stroke-linecap="round" points="35.5,207 39.8,209.5 43.5,215.5 47.3,218.8 51.1,230.2 54.9,241 58.7,220.7 62.5,228.6 66.3,227.3 70.1,199.1 73.8,180.2 77.6,174.6 81.4,167 85.2,134.6 89,124.9 92.8,115.5 96.6,111.1 100.4,107.9 104.2,117.3 108,114.8 111.8,114.8 115.6,138.9 119.4,157.3 123.2,167 126.9,173.8 130.7,195.7 134.5,206.4 138.3,223 142.1,219.5 145.9,217.5 149.7,221 153.5,224.9 157.3,230.8 161.1,249.3 164.9,257.1 168.7,246.4 172.5,238 176.3,241.1 180,246.4 183.8,248.7 187.6,260.6 191.4,261.6 195.2,255.2 199,256.7 202.8,248.9 206.6,233.7 210.4,240 214.2,241.1 218,243.1 221.8,235.7 225.6,213.8 229.4,198.6 233.2,200.4 236.9,207.4 240.7,206.1 244.5,198.7 248.3,208.4 252.1,210 255.9,205.1 259.7,204.7 263.5,206.3 267.3,184.2 271.1,195.3 274.9,222.6 278.7,226.5 282.5,225.6 286.3,218.7 290,216.4 293.8,222.6 297.6,233.9 301.4,253.4 305.2,246.6 309,241.7 312.8,237.8 316.6,232 320.4,207.4 324.2,224.6 328,218.3 331.8,215.2 335.6,195.3 339.4,188.9 343.1,188.5 346.9,193.4 350.7,203.5 354.5,208.6 358.3,183.1 362.1,178.2 365.9,186.6 369.7,185.2 373.5,189.5 377.3,195.9 381.1,201.2 384.9,205.1 388.7,185.2 392.5,194.4 396.2,187.9 400,191.4 403.8,217.8 407.6,233.9 411.4,214.8 415.2,248.4 419,233 422.8,219.4 426.6,218.4 430.4,232.8 434.2,235.6 438,243.9 441.8,238.5 445.6,247.3 449.4,241.4 453.1,250.6 456.9,249.8 460.7,246.7 464.5,258.4 468.3,248.8 472.1,251.7 475.9,244.9 479.7,255.4 483.5,234.6 487.3,243.7 491.1,246.7 494.9,238.1 498.7,227.4 502.5,232 506.2,220.9 510,222.3 513.8,236.5 517.6,241 521.4,235.6 525.2,215.7 529,240.4 532.8,224.4 536.6,220.4 540.4,219 544.2,214.5 548,222.9 551.8,224.8 555.6,218.4 559.3,221.5 563.1,219.4 566.9,217 570.7,222.5 574.5,220.4 578.3,212.6 582.1,207.7 585.9,189.2 589.7,197.2 593.5,207.3 597.3,205 601.1,211.8 604.9,208.8 608.7,214.1 612.5,223.9 616.2,215.7 620,219.2 623.8,229.7 627.6,222.3 631.4,234.6 635.2,224.4 639,221.5 642.8,220 646.6,214.5 650.4,223.9 654.2,225.8 658,224.4 661.8,231.7 665.6,225.8 669.3,221.9 673.1,228.3 676.9,222.5 680.7,218.4 684.5,216.5 688.3,214.1 692.1,210.2 695.9,210.2 699.7,213.1 703.5,215.1 707.3,227.4 711.1,220.9 714.9,236.1 718.7,235.2 722.4,231.7 726.2,232.2 730,233.2 733.8,239.5 737.6,244.3 741.4,251.5 745.2,256.4 749,246.9 752.8,239.1 756.6,246.3 760.4,218.6 764.2,226.2 768,235.9 771.8,237.5 775.5,234.6 779.3,236.5 783.1,241 786.9,231.3 790.7,220 794.5,220.9 798.3,216.5 802.1,234.2 805.9,230.7"/>
<g fill="#255E91"><circle cx="43.5" cy="215.5" r="2.75"/><circle cx="47.3" cy="218.8" r="2.75"/><circle cx="51.1" cy="230.2" r="2.75"/><circle cx="54.9" cy="241" r="2.75"/><circle cx="58.7" cy="220.7" r="2.75"/><circle cx="62.5" cy="228.6" r="2.75"/><circle cx="66.3" cy="227.3" r="2.75"/><circle cx="70.1" cy="199.1" r="2.75"/><circle cx="73.8" cy="180.2" r="2.75"/><circle cx="77.6" cy="174.6" r="2.75"/><circle cx="81.4" cy="167" r="2.75"/><circle cx="85.2" cy="134.6" r="2.75"/><circle cx="89" cy="124.9" r="2.75"/><circle cx="92.8" cy="115.5" r="2.75"/><circle cx="96.6" cy="111.1" r="2.75"/><circle cx="100.4" cy="107.9" r="2.75"/><circle cx="104.2" cy="117.3" r="2.75"/><circle cx="108" cy="114.8" r="2.75"/><circle cx="111.8" cy="114.8" r="2.75"/><circle cx="115.6" cy="138.9" r="2.75"/><circle cx="119.4" cy="157.3" r="2.75"/><circle cx="123.2" cy="167" r="2.75"/><circle cx="126.9" cy="173.8" r="2.75"/><circle cx="130.7" cy="195.7" r="2.75"/><circle cx="134.5" cy="206.4" r="2.75"/><circle cx="138.3" cy="223" r="2.75"/><circle cx="142.1" cy="219.5" r="2.75"/><circle cx="145.9" cy="217.5" r="2.75"/><circle cx="149.7" cy="221" r="2.75"/><circle cx="153.5" cy="224.9" r="2.75"/><circle cx="157.3" cy="230.8" r="2.75"/><circle cx="161.1" cy="249.3" r="2.75"/><circle cx="164.9" cy="257.1" r="2.75"/><circle cx="168.7" cy="246.4" r="2.75"/><circle cx="172.5" cy="238" r="2.75"/><circle cx="176.3" cy="241.1" r="2.75"/><circle cx="180" cy="246.4" r="2.75"/><circle cx="183.8" cy="248.7" r="2.75"/><circle cx="187.6" cy="260.6" r="2.75"/><circle cx="191.4" cy="261.6" r="2.75"/><circle cx="195.2" cy="255.2" r="2.75"/><circle cx="199" cy="256.7" r="2.75"/><circle cx="202.8" cy="248.9" r="2.75"/><circle cx="206.6" cy="233.7" r="2.75"/><circle cx="210.4" cy="240" r="2.75"/><circle cx="214.2" cy="241.1" r="2.75"/><circle cx="218" cy="243.1" r="2.75"/><circle cx="221.8" cy="235.7" r="2.75"/><circle cx="225.6" cy="213.8" r="2.75"/><circle cx="229.4" cy="198.6" r="2.75"/><circle cx="233.2" cy="200.4" r="2.75"/><circle cx="236.9" cy="207.4" r="2.75"/><circle cx="240.7" cy="206.1" r="2.75"/><circle cx="244.5" cy="198.7" r="2.75"/><circle cx="248.3" cy="208.4" r="2.75"/><circle cx="252.1" cy="210" r="2.75"/><circle cx="255.9" cy="205.1" r="2.75"/><circle cx="259.7" cy="204.7" r="2.75"/><circle cx="263.5" cy="206.3" r="2.75"/><circle cx="267.3" cy="184.2" r="2.75"/><circle cx="271.1" cy="195.3" r="2.75"/><circle cx="274.9" cy="222.6" r="2.75"/><circle cx="278.7" cy="226.5" r="2.75"/><circle cx="282.5" cy="225.6" r="2.75"/><circle cx="286.3" cy="218.7" r="2.75"/><circle cx="290" cy="216.4" r="2.75"/><circle cx="293.8" cy="222.6" r="2.75"/><circle cx="297.6" cy="233.9" r="2.75"/><circle cx="301.4" cy="253.4" r="2.75"/><circle cx="305.2" cy="246.6" r="2.75"/><circle cx="309" cy="241.7" r="2.75"/><circle cx="312.8" cy="237.8" r="2.75"/><circle cx="316.6" cy="232" r="2.75"/><circle cx="320.4" cy="207.4" r="2.75"/><circle cx="324.2" cy="224.6" r="2.75"/><circle cx="328" cy="218.3" r="2.75"/><circle cx="331.8" cy="215.2" r="2.75"/><circle cx="335.6" cy="195.3" r="2.75"/><circle cx="339.4" cy="188.9" r="2.75"/><circle cx="343.1" cy="188.5" r="2.75"/><circle cx="346.9" cy="193.4" r="2.75"/><circle cx="350.7" cy="203.5" r="2.75"/><circle cx="354.5" cy="208.6" r="2.75"/><circle cx="358.3" cy="183.1" r="2.75"/><circle cx="362.1" cy="178.2" r="2.75"/><circle cx="365.9" cy="186.6" r="2.75"/><circle cx="369.7" cy="185.2" r="2.75"/><circle cx="373.5" cy="189.5" r="2.75"/><circle cx="377.3" cy="195.9" r="2.75"/><circle cx="381.1" cy="201.2" r="2.75"/><circle cx="384.9" cy="205.1" r="2.75"/><circle cx="388.7" cy="185.2" r="2.75"/><circle cx="392.5" cy="194.4" r="2.75"/><circle cx="396.2" cy="187.9" r="2.75"/><circle cx="400" cy="191.4" r="2.75"/><circle cx="403.8" cy="217.8" r="2.75"/><circle cx="407.6" cy="233.9" r="2.75"/><circle cx="411.4" cy="214.8" r="2.75"/><circle cx="415.2" cy="248.4" r="2.75"/><circle cx="419" cy="233" r="2.75"/><circle cx="422.8" cy="219.4" r="2.75"/><circle cx="426.6" cy="218.4" r="2.75"/><circle cx="430.4" cy="232.8" r="2.75"/><circle cx="434.2" cy="235.6" r="2.75"/><circle cx="438" cy="243.9" r="2.75"/><circle cx="441.8" cy="238.5" r="2.75"/><circle cx="445.6" cy="247.3" r="2.75"/><circle cx="449.4" cy="241.4" r="2.75"/><circle cx="453.1" cy="250.6" r="2.75"/><circle cx="456.9" cy="249.8" r="2.75"/><circle cx="460.7" cy="246.7" r="2.75"/><circle cx="464.5" cy="258.4" r="2.75"/><circle cx="468.3" cy="248.8" r="2.75"/><circle cx="472.1" cy="251.7" r="2.75"/><circle cx="475.9" cy="244.9" r="2.75"/><circle cx="479.7" cy="255.4" r="2.75"/><circle cx="483.5" cy="234.6" r="2.75"/><circle cx="487.3" cy="243.7" r="2.75"/><circle cx="491.1" cy="246.7" r="2.75"/><circle cx="494.9" cy="238.1" r="2.75"/><circle cx="498.7" cy="227.4" r="2.75"/><circle cx="502.5" cy="232" r="2.75"/><circle cx="506.2" cy="220.9" r="2.75"/><circle cx="510" cy="222.3" r="2.75"/><circle cx="513.8" cy="236.5" r="2.75"/><circle cx="517.6" cy="241" r="2.75"/><circle cx="521.4" cy="235.6" r="2.75"/><circle cx="525.2" cy="215.7" r="2.75"/><circle cx="529" cy="240.4" r="2.75"/><circle cx="532.8" cy="224.4" r="2.75"/><circle cx="536.6" cy="220.4" r="2.75"/><circle cx="540.4" cy="219" r="2.75"/><circle cx="544.2" cy="214.5" r="2.75"/><circle cx="548" cy="222.9" r="2.75"/><circle cx="551.8" cy="224.8" r="2.75"/><circle cx="555.6" cy="218.4" r="2.75"/><circle cx="559.3" cy="221.5" r="2.75"/><circle cx="563.1" cy="219.4" r="2.75"/><circle cx="566.9" cy="217" r="2.75"/><circle cx="570.7" cy="222.5" r="2.75"/><circle cx="574.5" cy="220.4" r="2.75"/><circle cx="578.3" cy="212.6" r="2.75"/><circle cx="582.1" cy="207.7" r="2.75"/><circle cx="585.9" cy="189.2" r="2.75"/><circle cx="589.7" cy="197.2" r="2.75"/><circle cx="593.5" cy="207.3" r="2.75"/><circle cx="597.3" cy="205" r="2.75"/><circle cx="601.1" cy="211.8" r="2.75"/><circle cx="604.9" cy="208.8" r="2.75"/><circle cx="608.7" cy="214.1" r="2.75"/><circle cx="612.5" cy="223.9" r="2.75"/><circle cx="616.2" cy="215.7" r="2.75"/><circle cx="620" cy="219.2" r="2.75"/><circle cx="623.8" cy="229.7" r="2.75"/><circle cx="627.6" cy="222.3" r="2.75"/><circle cx="631.4" cy="234.6" r="2.75"/><circle cx="635.2" cy="224.4" r="2.75"/><circle cx="639" cy="221.5" r="2.75"/><circle cx="642.8" cy="220" r="2.75"/><circle cx="646.6" cy="214.5" r="2.75"/><circle cx="650.4" cy="223.9" r="2.75"/><circle cx="654.2" cy="225.8" r="2.75"/><circle cx="658" cy="224.4" r="2.75"/><circle cx="661.8" cy="231.7" r="2.75"/><circle cx="665.6" cy="225.8" r="2.75"/><circle cx="669.3" cy="221.9" r="2.75"/><circle cx="673.1" cy="228.3" r="2.75"/><circle cx="676.9" cy="222.5" r="2.75"/><circle cx="680.7" cy="218.4" r="2.75"/><circle cx="684.5" cy="216.5" r="2.75"/><circle cx="688.3" cy="214.1" r="2.75"/><circle cx="692.1" cy="210.2" r="2.75"/><circle cx="695.9" cy="210.2" r="2.75"/><circle cx="699.7" cy="213.1" r="2.75"/><circle cx="703.5" cy="215.1" r="2.75"/><circle cx="707.3" cy="227.4" r="2.75"/><circle cx="711.1" cy="220.9" r="2.75"/><circle cx="714.9" cy="236.1" r="2.75"/><circle cx="718.7" cy="235.2" r="2.75"/><circle cx="722.4" cy="231.7" r="2.75"/><circle cx="726.2" cy="232.2" r="2.75"/><circle cx="730" cy="233.2" r="2.75"/><circle cx="733.8" cy="239.5" r="2.75"/><circle cx="737.6" cy="244.3" r="2.75"/><circle cx="741.4" cy="251.5" r="2.75"/><circle cx="745.2" cy="256.4" r="2.75"/><circle cx="749" cy="246.9" r="2.75"/><circle cx="752.8" cy="239.1" r="2.75"/><circle cx="756.6" cy="246.3" r="2.75"/><circle cx="760.4" cy="218.6" r="2.75"/><circle cx="764.2" cy="226.2" r="2.75"/><circle cx="768" cy="235.9" r="2.75"/><circle cx="771.8" cy="237.5" r="2.75"/><circle cx="775.5" cy="234.6" r="2.75"/><circle cx="779.3" cy="236.5" r="2.75"/><circle cx="783.1" cy="241" r="2.75"/><circle cx="786.9" cy="231.3" r="2.75"/><circle cx="790.7" cy="220" r="2.75"/><circle cx="794.5" cy="220.9" r="2.75"/><circle cx="798.3" cy="216.5" r="2.75"/><circle cx="802.1" cy="234.2" r="2.75"/><circle cx="805.9" cy="230.7" r="2.75"/></g>
<rect x="838" y="82.9" width="18" height="5" fill="#96CD7A"/><rect x="839" y="83.9" width="16" height="3" fill="#B5DAA1"/><text class="lg" x="857.5" y="89.7">债券市场金融指标（8个）</text>
<rect x="838" y="132" width="18" height="5" fill="#7595D8"/><rect x="839" y="133" width="16" height="3" fill="#AABEE6"/><text class="lg" x="857.5" y="138.8">非传统银行金融市场指标（8个）</text>
<rect x="838" y="180.9" width="18" height="5" fill="#FFD658"/><rect x="839" y="181.9" width="16" height="3" fill="#FFE496"/><text class="lg" x="857.5" y="187.7">银行与信贷金融市场（8个）</text>
<rect x="838" y="229.9" width="18" height="5" fill="#BEBEBE"/><rect x="839" y="230.9" width="16" height="3" fill="#D9D9D9"/><text class="lg" x="857.5" y="236.7">货币与同业市场金融指标（8个）</text>
<rect x="838" y="279" width="18" height="5" fill="#F2A574"/><rect x="839" y="280" width="16" height="3" fill="#F8C6A6"/><text class="lg" x="857.5" y="285.8">宏观杠杆金融指标（8个）</text>
<rect x="838" y="327.9" width="18" height="5" fill="#9DB2E3"/><rect x="839" y="328.9" width="16" height="3" fill="#B5D3EE"/><text class="lg" x="857.5" y="334.7">股票市场金融指标（8个）</text>
<path d="M838 379.6H856" stroke="#255E91" stroke-width="2.3"/><circle cx="847" cy="379.6" r="2.75" fill="#255E91"/><text class="lg" x="857.5" y="383.9">总指数</text>
<rect x="1027.7" y="0" width="1.3" height="482" fill="#2F7445"/>
</svg>
</body></html>
